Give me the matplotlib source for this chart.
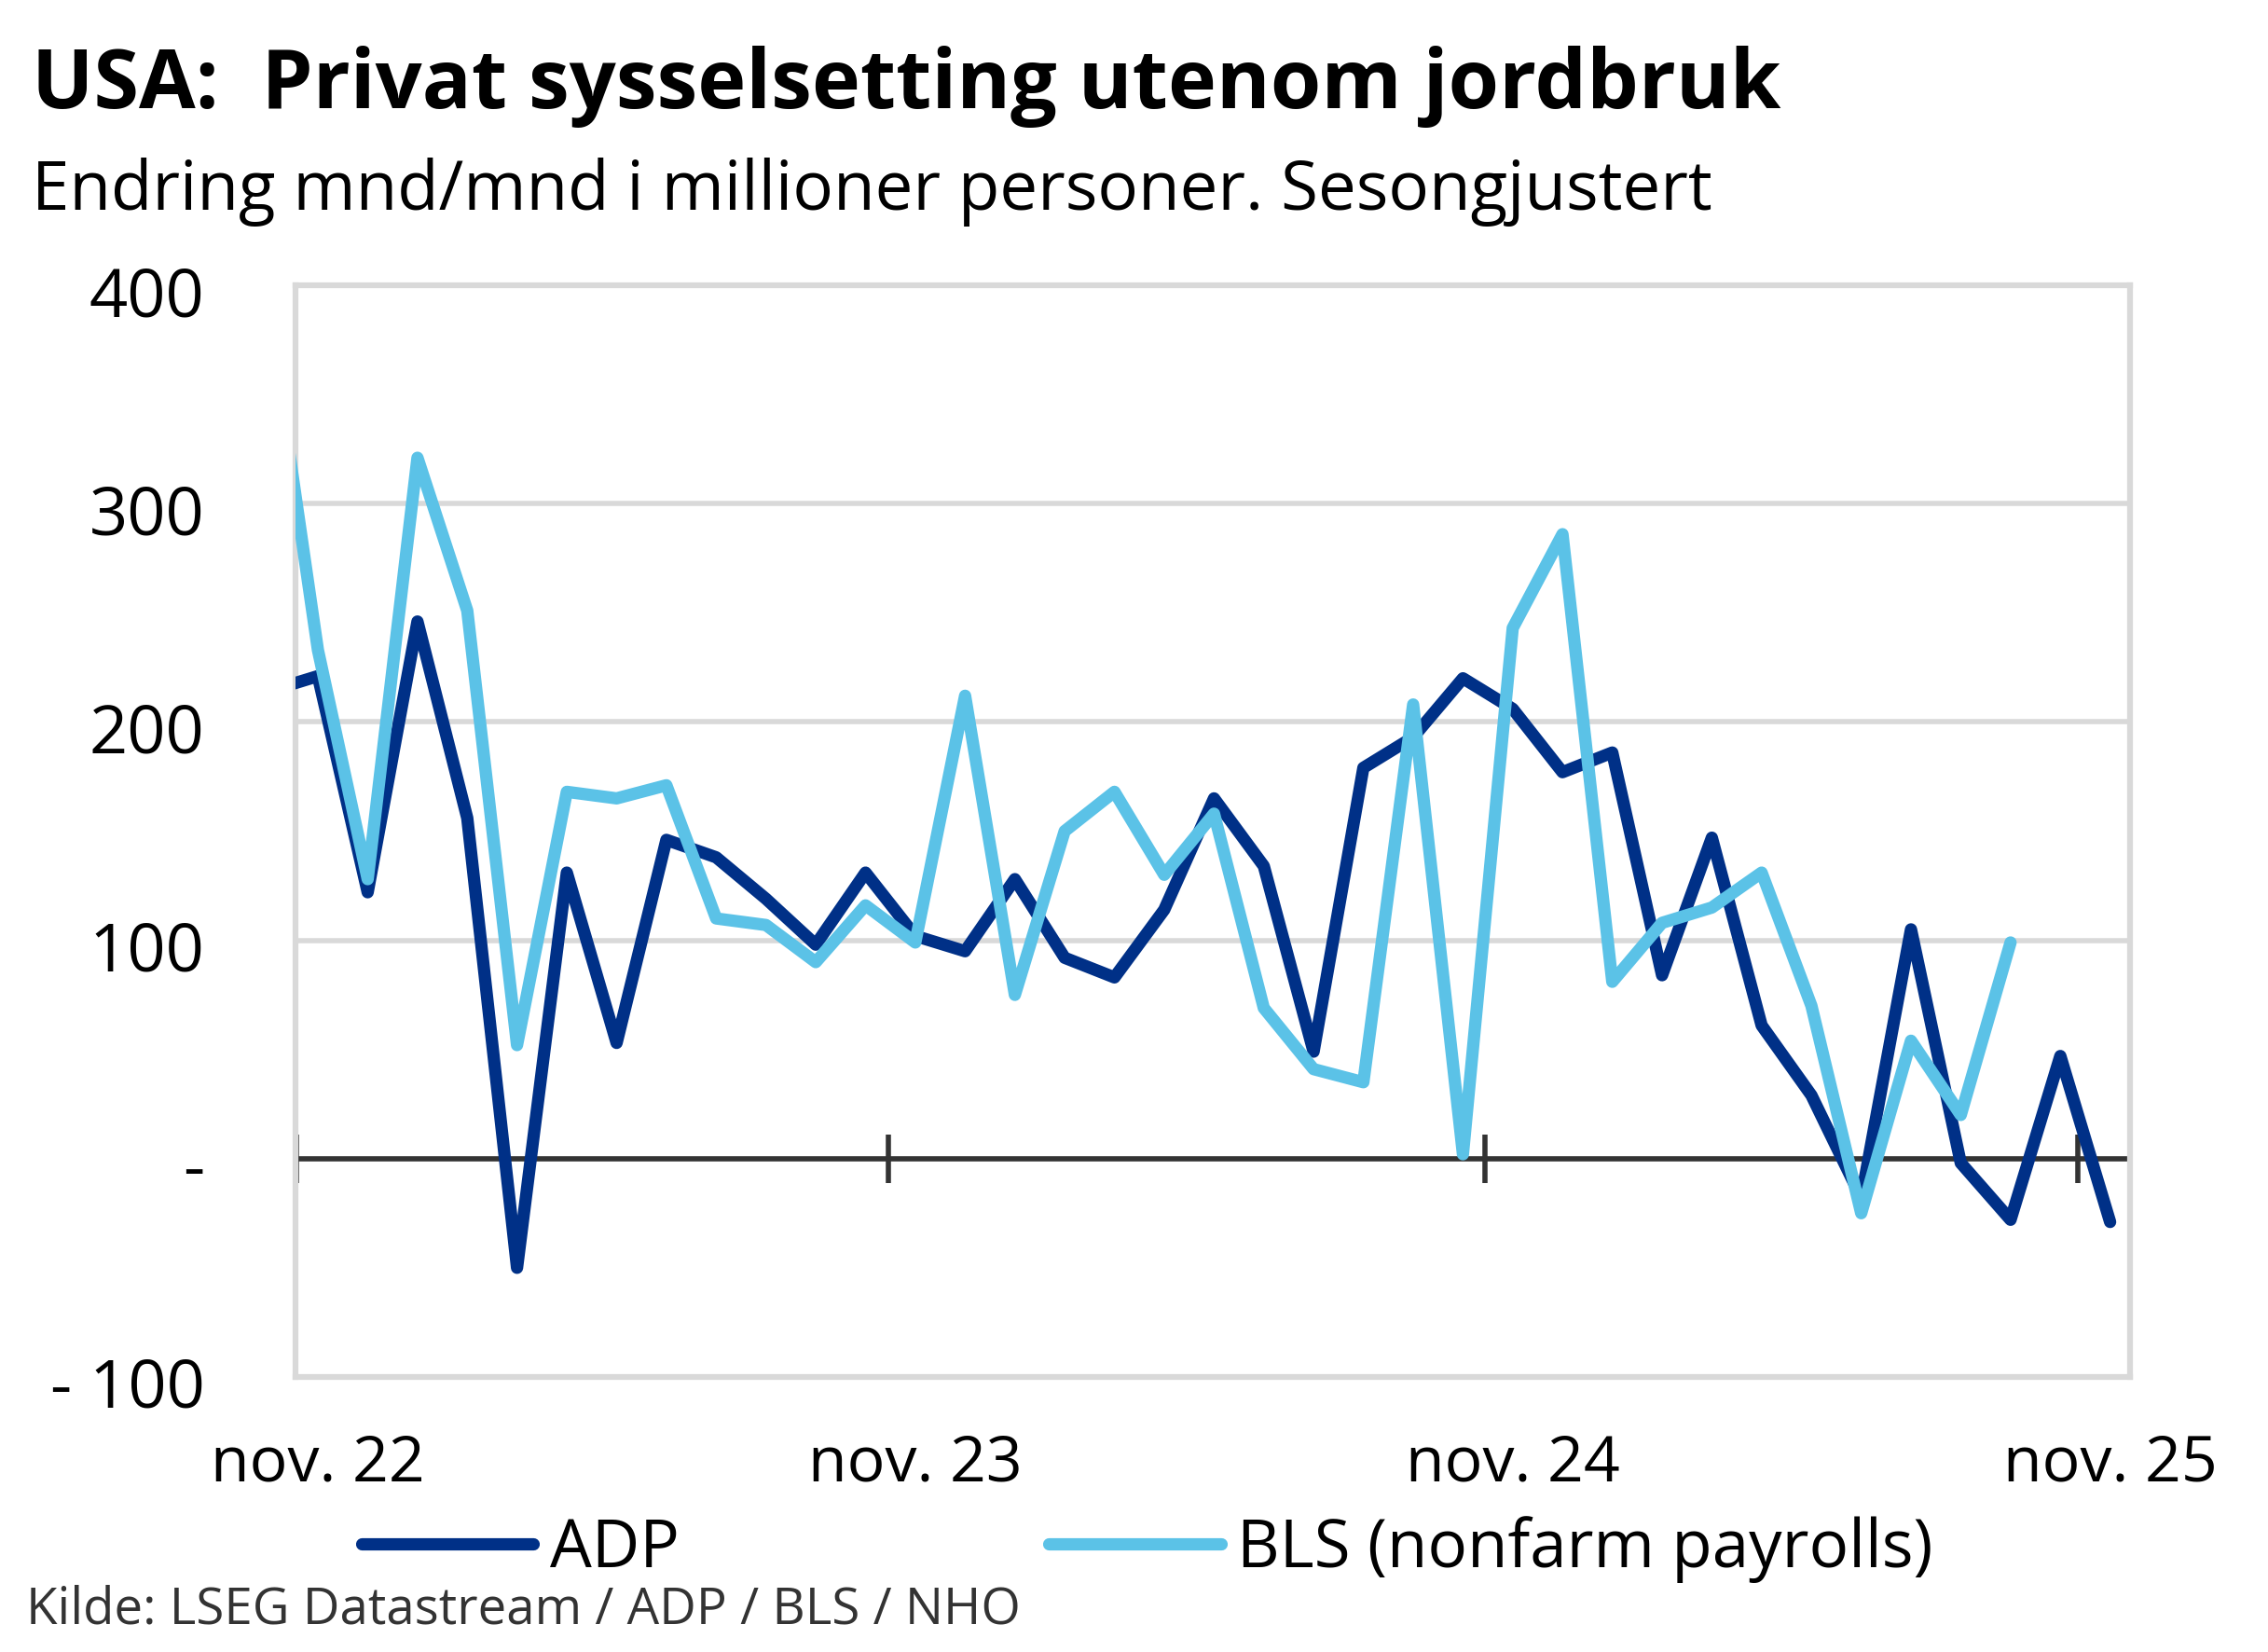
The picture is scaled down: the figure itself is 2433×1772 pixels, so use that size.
import matplotlib
matplotlib.use("Agg")
import matplotlib.pyplot as plt
import matplotlib.transforms as mtransforms
import numpy as np
import pandas as pd

# ---------------- data ----------------
months = pd.period_range("2022-10", "2025-11", freq="M")   # Oct 22 .. Nov 25
adp = [214, 221, 122, 246, 156, -50, 131, 53, 146, 138, 119, 98, 131,
       102, 95, 128, 92, 83, 114, 165, 134, 49, 179, 193, 220,
       206, 177, 186, 84, 147, 61, 29, -18, 105, -2, -28, 47, -29]
bls = [390, 233, 128, 321, 251, 52, 168, 165, 171, 110, 107, 90, 116,
       99, 212, 75, 150, 168, 130, 158, 69, 41, 35, 208, 2,
       243, 286, 81, 108, 115, 131, 70, -25, 54, 20, 99]
xtick_labels = ["nov. 22", "nov. 23", "nov. 24", "nov. 25"]
ytick_values = [-100, 0, 100, 200, 300, 400]
ytick_labels = ["- 100", "-", "100", "200", "300", "400"]
series_names = ["ADP", "BLS (nonfarm payrolls)"]
title = "USA:  Privat sysselsetting utenom jordbruk"
subtitle = "Endring mnd/mnd i millioner personer. Sesongjustert"
source = "Kilde: LSEG Datastream / ADP / BLS / NHO"

# ---------------- styling ----------------
plt.rcParams["font.family"] = ["Open Sans", "DejaVu Sans"]
C_ADP = "#003087"
C_BLS = "#5BC2E7"
C_GRID = "#d9d9d9"
C_ZERO = "#333333"

W, H = 2433, 1772
fig = plt.figure(figsize=(W / 100, H / 100), dpi=100)
L, R, T, B = 317, 2285, 306, 1477
ax = fig.add_axes([L / W, 1 - B / H, (R - L) / W, (B - T) / H])

# x positions: months since Nov 2022
ref = pd.Period("2022-11", freq="M")
x_all = np.array([(m - ref).n for m in months])
x_adp = x_all[:len(adp)]
x_bls = x_all[:len(bls)]

ax.set_xlim(-0.45, 36.4)
ax.set_ylim(-100, 400)

# grid & frame
ax.set_yticks(ytick_values)
ax.set_yticklabels([])
ax.yaxis.grid(True, color=C_GRID, linewidth=4.0, zorder=0)
ax.set_axisbelow(True)
for s in ax.spines.values():
    s.set_color(C_GRID)
    s.set_linewidth(4.5)

# y tick labels (baseline slightly below the gridline, as in the original)
ylab_tr = mtransforms.blended_transform_factory(ax.transAxes, ax.transData) + \
    mtransforms.ScaledTranslation(0, -0.33, fig.dpi_scale_trans)
for v, s in zip(ytick_values, ytick_labels):
    ax.text(-0.0495, v, s, transform=ylab_tr, ha="right", va="baseline",
            fontsize=52, color="black", clip_on=False)

# zero line with tick marks (ticks between categories)
ax.axhline(0, color=C_ZERO, linewidth=4.0, zorder=2)
tick_pos = [-0.43, 11.45, 23.45, 35.35]
ax.vlines(tick_pos, -11, 11, color=C_ZERO, linewidth=4.0, zorder=2)

# data lines
ax.plot(x_adp, adp, color=C_ADP, linewidth=9.5, solid_joinstyle="round",
        solid_capstyle="round", zorder=3, label=series_names[0])
ax.plot(x_bls, bls, color=C_BLS, linewidth=9.5, solid_joinstyle="round",
        solid_capstyle="round", zorder=4, label=series_names[1])

# x tick labels
label_pos = [(pd.Period(f"20{l[-2:]}-11", freq="M") - ref).n for l in xtick_labels]
ax.set_xticks(label_pos)
ax.set_xticklabels(xtick_labels)
ax.tick_params(axis="x", length=0, pad=43, labelsize=49, colors="black")
ax.tick_params(axis="y", length=0)

# legend
leg = fig.legend(loc="center left", bbox_to_anchor=(388 / W, 1 - 1662 / H),
                 ncol=2, frameon=False, fontsize=51, handlelength=2.6,
                 handletextpad=0.25, columnspacing=5.6, borderpad=0,
                 borderaxespad=0)
for h in leg.get_lines():
    h.set_linewidth(9.5)
    h.set_solid_capstyle("round")

# titles & source
t1 = fig.text(34 / W, 1 - 116 / H, title, fontsize=60, fontweight="bold",
              ha="left", va="baseline", color="black")
t2 = fig.text(34 / W, 1 - 225 / H, subtitle, fontsize=50,
              ha="left", va="baseline", color="black")
t3 = fig.text(28 / W, 1 - 1741 / H, source, fontsize=30,
              ha="left", va="baseline", color="#333333")

# fit text widths to reference
fig.canvas.draw()
rend = fig.canvas.get_renderer()
for t, target in [(t1, 1875), (t2, 1802), (t3, 1066)]:
    bb = t.get_window_extent(rend)
    t.set_fontsize(t.get_fontsize() * target / bb.width)

fig.savefig("out.png", dpi=100)
